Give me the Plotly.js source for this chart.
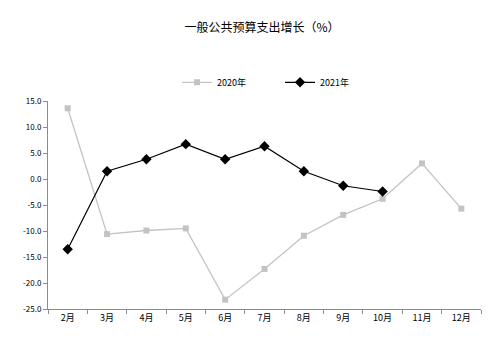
<!DOCTYPE html>
<html>
<head>
<meta charset="utf-8">
<script src="https://cdn.plot.ly/plotly-3.0.1.min.js"></script>
<style>
  html, body { margin: 0; padding: 0; background: #fff; }
  #chart { width: 499px; height: 349px; }
</style>
</head>
<body>
<div id="chart"></div>
<script>
// Monthly growth of general public budget expenditure (%)
const months = ['2月', '3月', '4月', '5月', '6月', '7月', '8月', '9月', '10月', '11月', '12月'];
const growth2020 = [13.6, -10.6, -9.9, -9.5, -23.2, -17.3, -10.9, -6.9, -3.8, 3.0, -5.7];
const growth2021 = [-13.5, 1.5, 3.8, 6.7, 3.8, 6.3, 1.5, -1.3, -2.4];
const yTickVals = [15, 10, 5, 0, -5, -10, -15, -20, -25];
const yTickText = ['15.0', '10.0', '5.0', '0.0', '-5.0', '-10.0', '-15.0', '-20.0', '-25.0'];

const font = 'SimSun, "Noto Sans CJK SC", sans-serif';

const traces = [
  {
    name: '2020年',
    x: months,
    y: growth2020,
    type: 'scatter',
    mode: 'lines+markers',
    line: { color: '#c3c3c3', width: 1.3 },
    marker: { symbol: 'square', size: 6, color: '#c3c3c3' }
  },
  {
    name: '2021年',
    x: months.slice(0, growth2021.length),
    y: growth2021,
    type: 'scatter',
    mode: 'lines+markers',
    line: { color: '#000000', width: 1.2 },
    marker: { symbol: 'diamond', size: 8, color: '#000000' }
  }
];

const layout = {
  width: 499,
  height: 349,
  margin: { l: 48, r: 18, t: 101, b: 40 },
  paper_bgcolor: '#ffffff',
  plot_bgcolor: '#ffffff',
  font: { family: font, size: 9, color: '#000' },
  title: {
    text: '一般公共预算支出增长（%）',
    xref: 'container',
    x: 262 / 499, xanchor: 'center',
    yref: 'container',
    y: 1 - 28 / 349, yanchor: 'middle',
    font: { family: font, size: 12, color: '#000' }
  },
  showlegend: true,
  legend: {
    orientation: 'h',
    x: 0.298, xanchor: 'left',
    y: 1.09, yanchor: 'middle',
    font: { family: font, size: 9, color: '#000' },
    entrywidth: 58,
    tracegroupgap: 0
  },
  xaxis: {
    type: 'category',
    range: [-0.5, 10.5],
    showgrid: false,
    zeroline: false,
    showline: true,
    linecolor: '#8c8c8c',
    linewidth: 1,
    ticks: 'outside',
    tickson: 'boundaries',
    ticklen: 4,
    tickcolor: '#8c8c8c',
    tickfont: { family: font, size: 9, color: '#000' }
  },
  yaxis: {
    range: [-25, 15],
    tickvals: yTickVals,
    ticktext: yTickText,
    showgrid: false,
    zeroline: false,
    showline: true,
    linecolor: '#8c8c8c',
    linewidth: 1,
    ticks: 'outside',
    ticklen: 4,
    tickcolor: '#8c8c8c',
    tickfont: { family: font, size: 8, color: '#000' }
  }
};

Plotly.newPlot('chart', traces, layout, { displayModeBar: false, staticPlot: true });
</script>
</body>
</html>
